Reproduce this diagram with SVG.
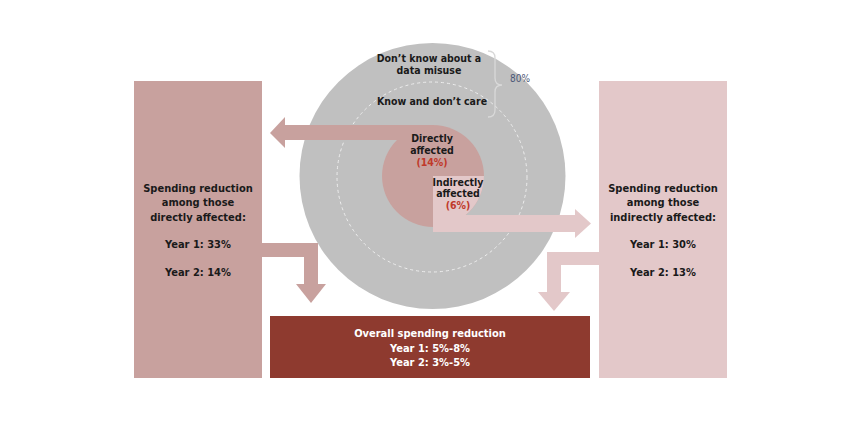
<svg xmlns="http://www.w3.org/2000/svg" width="864" height="430" viewBox="0 0 864 430">
<style>
.t{font-family:"DejaVu Sans Condensed","DejaVu Sans",sans-serif;font-weight:bold;font-size:11px;fill:#1a1a1a;text-anchor:middle}
.s{font-size:10.5px}
.r{fill:#c0392b}
.w{fill:#ffffff}
.dk{fill:#c8a19e}
.lt{fill:#e3c8c9}
</style>
<rect width="864" height="430" fill="#ffffff"/>
<g id="left-box">
<rect class="dk" x="134" y="81" width="128" height="297"/>
<text class="t" x="198" y="192">Spending reduction</text>
<text class="t" x="198" y="206">among those</text>
<text class="t" x="198" y="221">directly affected:</text>
<text class="t" x="198" y="248">Year 1: 33%</text>
<text class="t" x="198" y="276">Year 2: 14%</text>
</g>
<g id="right-box">
<rect class="lt" x="599" y="81" width="128" height="297"/>
<text class="t" x="663" y="192">Spending reduction</text>
<text class="t" x="663" y="206">among those</text>
<text class="t" x="663" y="221">indirectly affected:</text>
<text class="t" x="663" y="248">Year 1: 30%</text>
<text class="t" x="663" y="276">Year 2: 13%</text>
</g>
<g id="circle">
<circle cx="432.5" cy="176" r="133" fill="#c0c0c0"/>
<circle cx="432" cy="177" r="95" fill="none" stroke="#eeeeee" stroke-width="1" stroke-dasharray="3 3"/>
<text class="t s" x="429" y="62">Don’t know about a</text>
<text class="t s" x="429" y="74">data misuse</text>
<text class="t s" x="432" y="105">Know and don’t care</text>
</g>
<g id="brace">
<path d="M488,51 Q495,51 495,58 L495,78 Q495,85 502,85 Q495,85 495,92 L495,110 Q495,117 488,117" fill="none" stroke="#d9d9d9" stroke-width="1.3"/>
<text class="t" x="520" y="82" style="font-weight:normal;font-size:10px;fill:#4b5877">80%</text>
</g>
<g id="bottom-box">
<rect x="270" y="316" width="320" height="62" fill="#8e3a2f"/>
<text class="t w" x="430" y="337">Overall spending reduction</text>
<text class="t w" x="430" y="352">Year 1: 5%-8%</text>
<text class="t w" x="430" y="366">Year 2: 3%-5%</text>
</g>
<g id="connectors">
<circle class="dk" cx="433" cy="176" r="51"/>
<rect class="dk" x="284" y="125" width="149" height="15"/>
<polygon class="dk" points="285,117 270,133 285,148"/>
<path class="lt" d="M433,176 L484,176 A51,51 0 0 1 433,227 Z"/>
<rect class="lt" x="433" y="215" width="143" height="17"/>
<polygon class="lt" points="575,209 591,223.5 575,238"/>
<rect class="dk" x="262" y="243" width="56" height="14"/>
<rect class="dk" x="304" y="243" width="14" height="42"/>
<polygon class="dk" points="296,284 326,284 311,303"/>
<rect class="lt" x="547" y="252" width="52" height="13"/>
<rect class="lt" x="547" y="252" width="14" height="41"/>
<polygon class="lt" points="538,292 570,292 554,311"/>
</g>
<g id="labels">
<text class="t s" x="432" y="142">Directly</text>
<text class="t s" x="432" y="154">affected</text>
<text class="t s r" x="432" y="166">(14%)</text>
<text class="t s" x="458" y="186">Indirectly</text>
<text class="t s" x="458" y="197">affected</text>
<text class="t s r" x="458" y="209">(6%)</text>
</g>
</svg>
